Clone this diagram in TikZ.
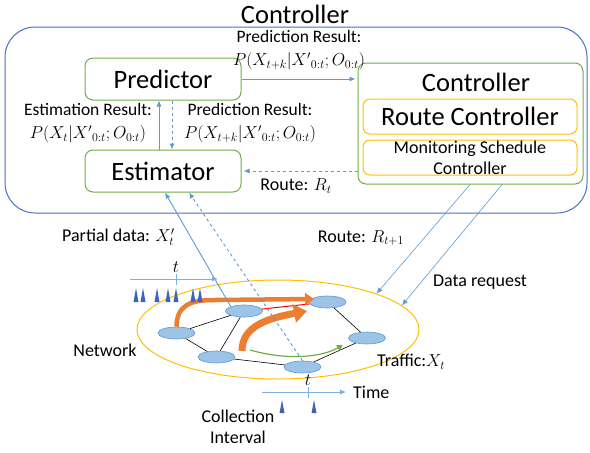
\documentclass[tikz,border=0pt]{standalone}
\usepackage{fontspec}
\setmainfont{Carlito}
\usetikzlibrary{arrows.meta,shapes.geometric}
\definecolor{boxblue}{RGB}{68,114,196}
\definecolor{lineblue}{RGB}{91,155,213}
\definecolor{axisblue}{RGB}{125,175,225}
\definecolor{hostfill}{RGB}{157,195,230}
\definecolor{tipblue}{RGB}{60,100,190}
\definecolor{leaf}{RGB}{112,173,71}
\definecolor{amber}{RGB}{255,192,0}
\definecolor{burnt}{RGB}{237,125,49}

\begin{document}
\begin{tikzpicture}[x=1pt,y=-1pt,
  every node/.style={inner sep=0pt},
  big/.style={font=\fontsize{26.5}{30}\selectfont},
  lbl/.style={font=\fontsize{18}{20}\selectfont},
  pair/.style={align=center,font=\fontsize{17.5}{23}\selectfont},
  unit/.style={big,draw=leaf,line width=1pt,rounded corners=8pt,minimum width=156pt,minimum height=42pt},
  sub/.style={draw=amber,line width=1pt,rounded corners=7pt,minimum width=214pt,minimum height=35pt},
  flow/.style={draw=lineblue,line width=0.9pt,-{Latex[length=6pt,width=5pt]}},
  thinflow/.style={draw=lineblue,line width=0.6pt,-{Latex[length=6pt,width=5pt]}},
  axis/.style={draw=axisblue,line width=0.8pt,-{Latex[length=6pt,width=5pt]}},
  host/.style={ellipse,draw=lineblue,fill=hostfill,line width=0.6pt,minimum width=37pt,minimum height=12pt},
  link/.style={black,line width=0.6pt},
  stream/.style={burnt,line cap=butt}]
\useasboundingbox (0,0) rectangle (590,453);

\node[draw=boxblue,line width=1pt,rounded corners=30pt,minimum width=582pt,minimum height=186pt] (box) at (296,120) {};
\node[big] (title) at (295,14) {Controller};

\node[unit] (pred) at (163,79) {Predictor};
\node[unit] (est) at (163,171) {Estimator};
\node[unit,minimum width=225pt,minimum height=121pt] (ctrl) at (470.5,123.5) {};
\node[big] (ctrltxt) at (476,82) {Controller};
\node[sub,big] (route) at (470,116.5) {Route Controller};
\node[sub,align=center,font=\fontsize{18}{21}\selectfont] (mon) at (470,157.5) {Monitoring Schedule\\Controller};

\draw[flow,shorten >=2pt] (pred.east) -- (pred.east -| ctrl.west);
\draw[flow] ([xshift=-4pt]est.north) -- ([xshift=-4pt]pred.south);
\draw[flow,dashed] ([xshift=9pt]pred.south) -- ([xshift=9pt]est.north);
\draw[flow,dashed,shorten >=2pt] (est.east -| ctrl.west) -- (est.east);

\node[pair] (prednote) at (299,50) {Prediction Result:\\$P(X_{t+k}|X'{}_{0:t};O_{0:t})$};
\node[pair] (estnote) at (88,123) {Estimation Result:\\$P(X_t|X'{}_{0:t};O_{0:t})$};
\node[pair] (fcnote) at (250,123) {Prediction Result:\\$P(X_{t+k}|X'{}_{0:t};O_{0:t})$};
\node[lbl] (routenow) at (296,186) {Route: $R_t$};

\node[ellipse,draw=amber,line width=1pt,minimum width=282pt,minimum height=99pt] (ring) at (278,329.5) {};
\node[host] (h1) at (244,311) {};
\node[host] (h2) at (176.5,333) {};
\node[host] (h3) at (216.5,357) {};
\node[host] (h4) at (302.5,367) {};
\node[host] (h5) at (327.5,302) {};
\node[host] (h6) at (367,338) {};
\draw[link] (h2) -- (h1);
\draw[link] (h2) -- (h3);
\draw[link] (h3) -- (h1);
\draw[link] (h3) -- (h4);
\draw[link] (h4) -- (h6);
\draw[link] (h6) -- (h5);
\draw[red,line width=1pt] (h1) -- (h5);

\draw[stream,line width=4.5pt,-{Triangle[length=9pt,width=12pt]}] (h2.north) .. controls (177,305) and (190,300) .. (215,300) -- (314,299);
\draw[stream,line width=7pt,-{Triangle[length=13pt,width=18pt]}] (242,351) .. controls (242,325) and (270,318) .. (307,311);
\draw[leaf,line width=1.2pt,-{Triangle[length=6pt,width=6pt]}] (250,350) .. controls (285,360) and (320,358) .. (343,345);

\draw[flow] (h1.north west) -- ([xshift=2pt]est.south);
\draw[flow,dashed] (h4.north) -- ([xshift=26pt]est.south);
\draw[thinflow] ([xshift=-0.5pt]ctrl.south) -- (ring.20);
\draw[thinflow] ([xshift=31.5pt]ctrl.south) -- (ring.11);

\node[lbl,anchor=west] (partial) at (62,237) {Partial data: $X_t'$};
\node[lbl] (routenext) at (361,238) {Route: $R_{t+1}$};
\node[lbl] (request) at (480,282) {Data request};
\node[lbl] (net) at (105,350) {Network};
\node[lbl,anchor=west] (traffic) at (377,362) {Traffic:$X_t$};

\draw[axis] (130,279) -- (218,279);
\draw[axisblue,line width=0.8pt] (176,274) -- (176,285);
\node[lbl] (tnow) at (176,267) {$t$};
\foreach \x in {136,143,157,168,176,193,200}
  \fill[tipblue] (\x-2.5,302) -- (\x,288) -- (\x+2.5,302) -- cycle;

\draw[axis] (262,392) -- (346,392);
\draw[axisblue,line width=0.8pt] (308,387) -- (308,398);
\node[lbl] (tcol) at (308,380) {$t$};
\foreach \x in {282,314}
  \fill[tipblue] (\x-2.5,413) -- (\x,400) -- (\x+2.5,413) -- cycle;
\node[lbl,anchor=west] (time) at (353,392) {Time};
\node[lbl,align=center,font=\fontsize{18}{21}\selectfont] (interval) at (238,427) {Collection\\Interval};
\end{tikzpicture}
\end{document}
